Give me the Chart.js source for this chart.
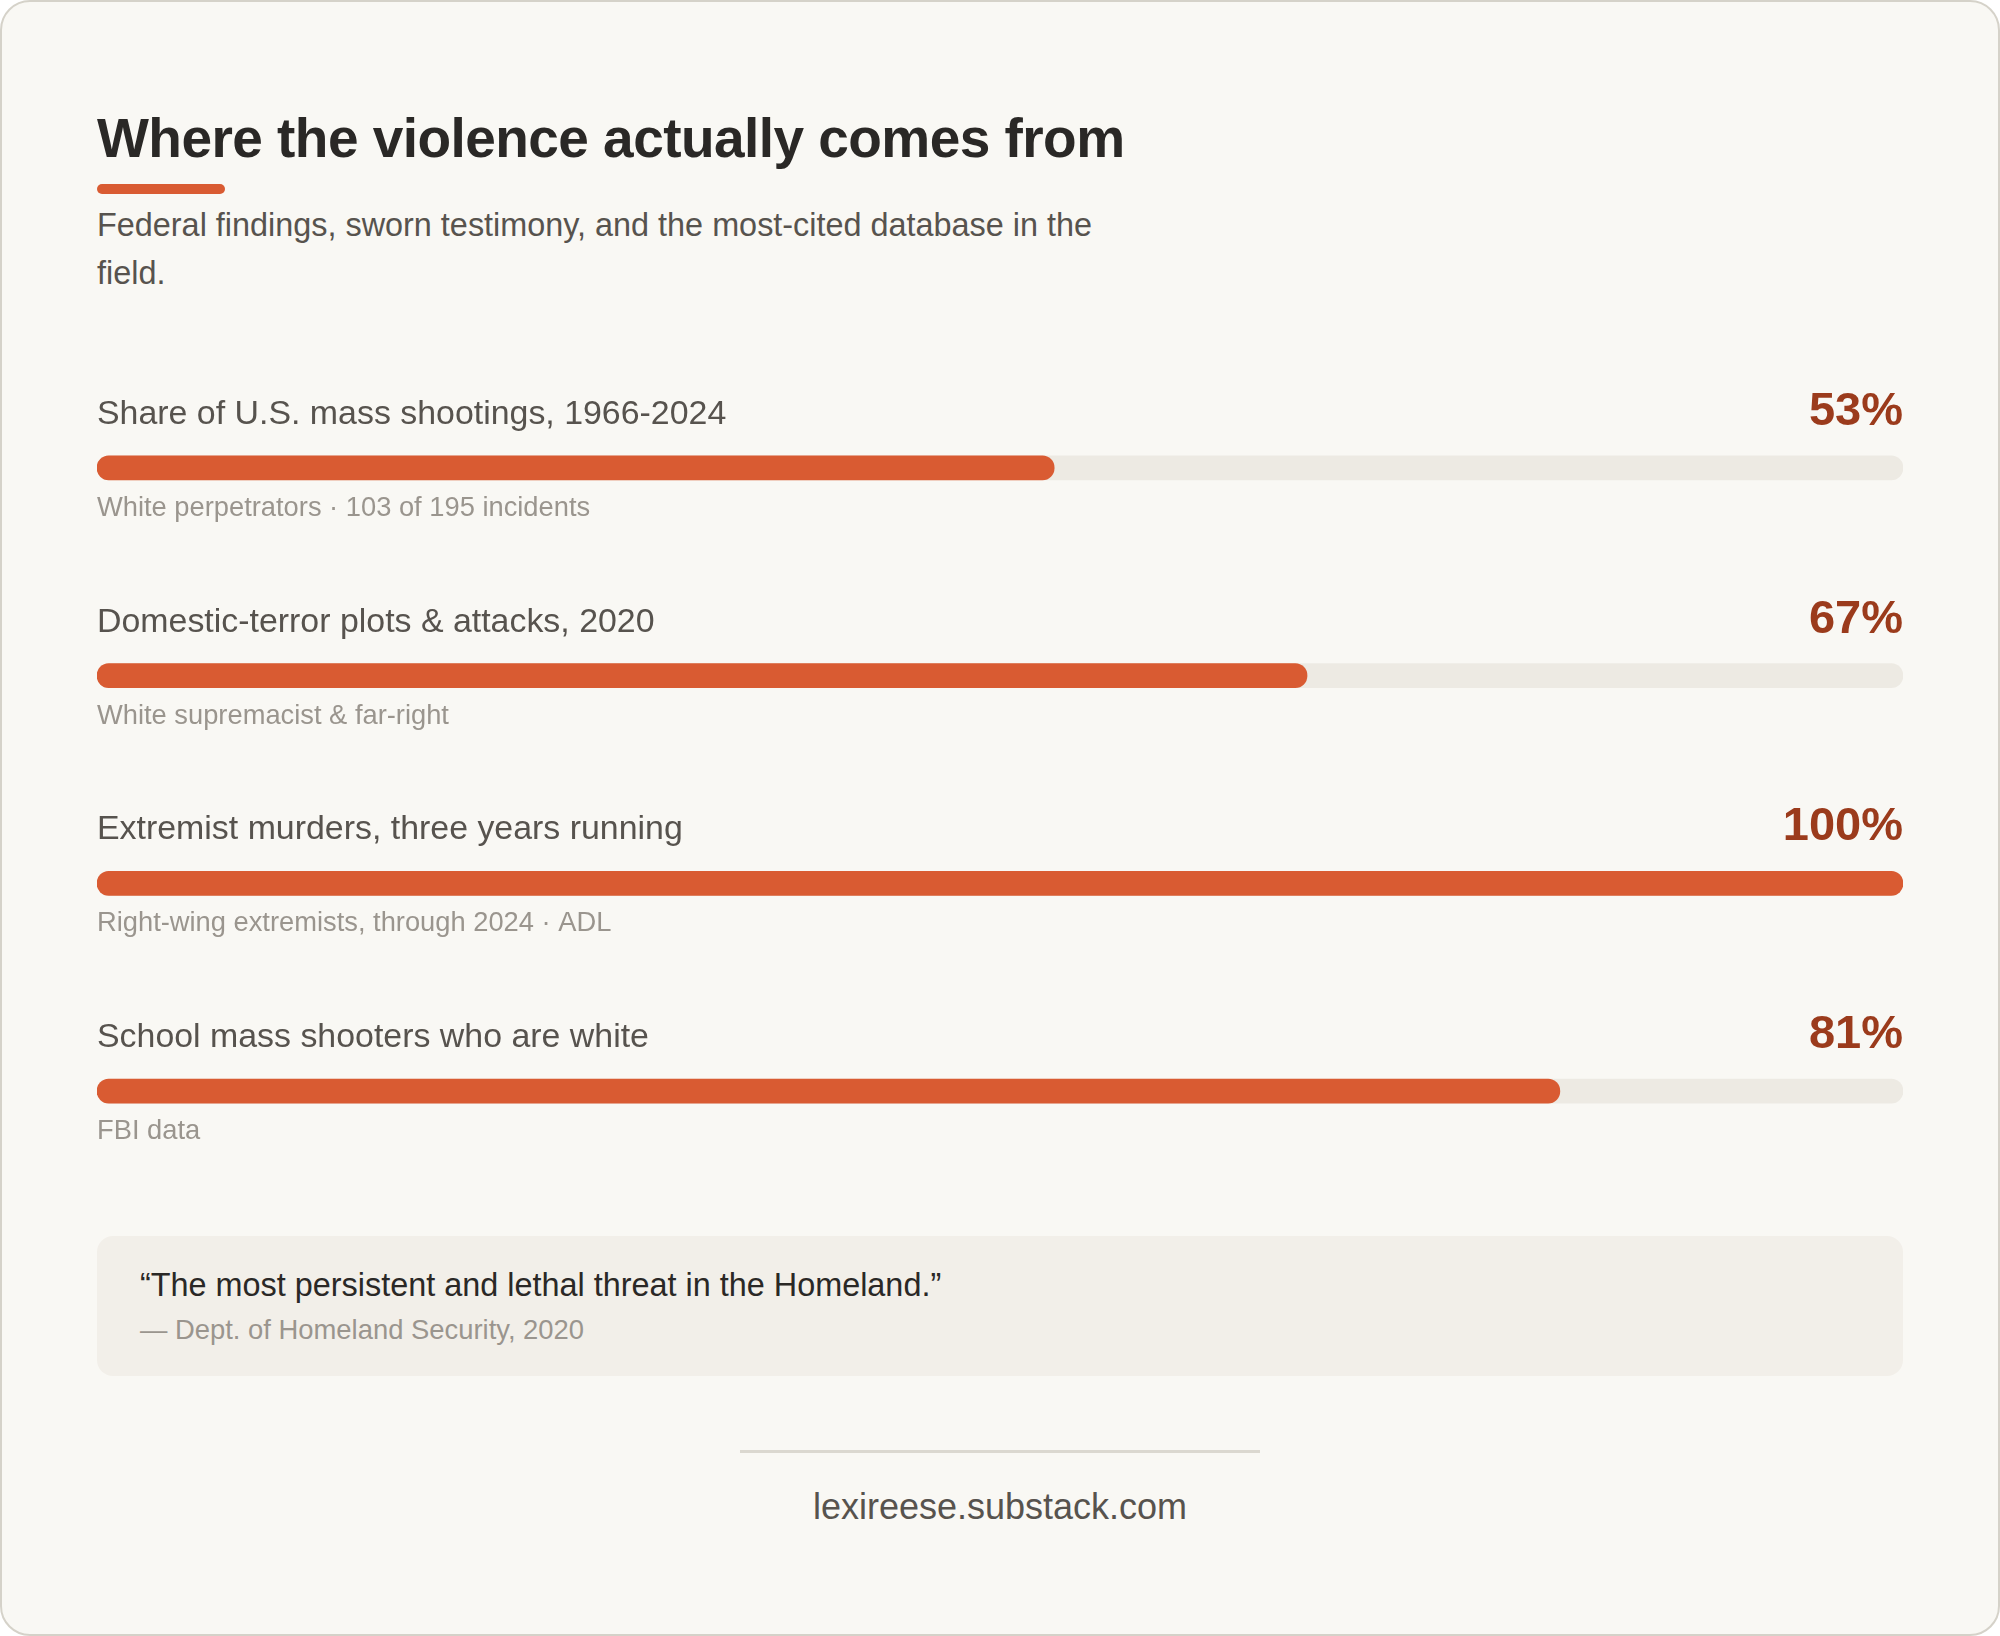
<!DOCTYPE html>
<html>
<head>
<meta charset="utf-8">
<script src="https://cdn.jsdelivr.net/npm/chart.js@4.4.1/dist/chart.umd.min.js"></script>
<style>
  html, body { margin:0; padding:0; background:#ffffff; }
  body { width:2000px; height:1636px; position:relative; overflow:hidden; font-family:"Liberation Sans", Arial, Helvetica, sans-serif; }
  #card { position:absolute; left:0; top:0; width:2000px; height:1636px; box-sizing:border-box; border:2.5px solid #d5d2c9; border-radius:30px; background:#f9f8f4; }
  .abs { position:absolute; white-space:nowrap; }
  #title { left:97px; top:105px; font-size:55px; line-height:66px; font-weight:bold; color:#2a2826; letter-spacing:-0.55px; }
  #accent { position:absolute; left:97px; top:184px; width:128px; height:10px; border-radius:5px; background:#d95b32; }
  #subtitle { position:absolute; left:97px; top:201px; width:1040px; font-size:32.4px; line-height:48px; color:#57534e; }
  #chartWrap { position:absolute; left:0; top:300px; width:2000px; height:920px; }
  #quoteBox { position:absolute; left:97px; top:1236px; width:1806px; height:140px; border-radius:16px; background:#f2efe9; }
  #quote { left:140px; top:1265px; font-size:32.4px; line-height:40px; color:#2a2826; }
  #attrib { left:140px; top:1313px; font-size:27.4px; line-height:34px; color:#9a958e; }
  #divider { position:absolute; left:740px; top:1450px; width:520px; height:3px; background:#dbd8d0; }
  #footer { left:0; width:2000px; text-align:center; top:1485px; font-size:36px; line-height:44px; color:#57534e; }
</style>
</head>
<body>
<div id="card"></div>
<div id="title" class="abs">Where the violence actually comes from</div>
<div id="accent"></div>
<div id="subtitle">Federal findings, sworn testimony, and the most-cited database in the field.</div>
<div id="chartWrap"><canvas id="c" width="2000" height="920" style="width:2000px;height:920px;"></canvas></div>
<div id="quoteBox"></div>
<div id="quote" class="abs">“The most persistent and lethal threat in the Homeland.”</div>
<div id="attrib" class="abs">— Dept. of Homeland Security, 2020</div>
<div id="divider"></div>
<div id="footer" class="abs">lexireese.substack.com</div>
<script>
const categories = [
  'Share of U.S. mass shootings, 1966-2024',
  'Domestic-terror plots & attacks, 2020',
  'Extremist murders, three years running',
  'School mass shooters who are white'
];
const values = [53, 67, 100, 81];
const trackValues = [100, 100, 100, 100];
const valueLabels = ['53%', '67%', '100%', '81%'];
const notes = [
  'White perpetrators · 103 of 195 incidents',
  'White supremacist & far-right',
  'Right-wing extremists, through 2024 · ADL',
  'FBI data'
];

const rowText = {
  id: 'rowText',
  afterDatasetsDraw(chart) {
    const ctx = chart.ctx;
    const area = chart.chartArea;
    const y = chart.scales.y;
    ctx.save();
    ctx.textBaseline = 'alphabetic';
    categories.forEach((cat, i) => {
      const cy = y.getPixelForValue(i);
      ctx.font = '33.9px "Liberation Sans", Arial, sans-serif';
      ctx.fillStyle = '#57534e';
      ctx.textAlign = 'left';
      ctx.fillText(cat, area.left, cy - 44);
      ctx.font = 'bold 47px "Liberation Sans", Arial, sans-serif';
      ctx.fillStyle = '#9b3b1c';
      ctx.textAlign = 'right';
      ctx.fillText(valueLabels[i], area.right, cy - 43);
      ctx.font = '27.3px "Liberation Sans", Arial, sans-serif';
      ctx.fillStyle = '#9a958e';
      ctx.textAlign = 'left';
      ctx.fillText(notes[i], area.left, cy + 48);
    });
    ctx.restore();
  }
};

new Chart(document.getElementById('c'), {
  type: 'bar',
  data: {
    labels: categories,
    datasets: [
      { data: values, backgroundColor: '#d95b32', barThickness: 24, borderRadius: 12, borderSkipped: false, grouped: false, order: 0 },
      { data: trackValues, backgroundColor: '#edeae3', barThickness: 24, borderRadius: 12, borderSkipped: false, grouped: false, order: 1 }
    ]
  },
  options: {
    indexAxis: 'y',
    responsive: false,
    devicePixelRatio: 1,
    animation: false,
    layout: { padding: { left: 97, right: 97, top: 64, bottom: 25 } },
    scales: {
      x: { display: false, min: 0, max: 100 },
      y: { display: false }
    },
    plugins: { legend: { display: false }, tooltip: { enabled: false } }
  },
  plugins: [rowText]
});
</script>
</body>
</html>
